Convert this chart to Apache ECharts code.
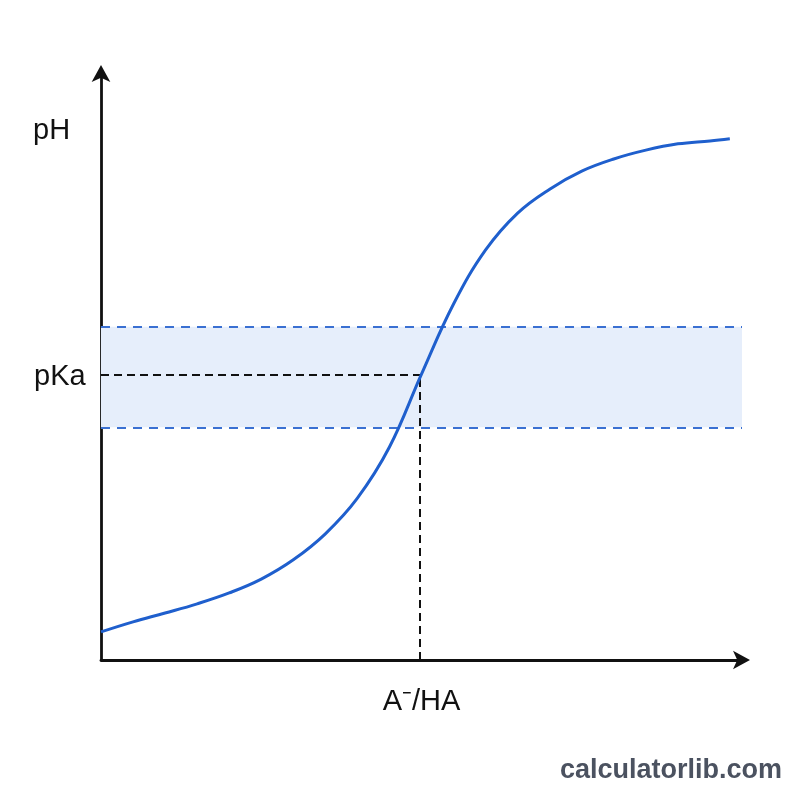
<!DOCTYPE html>
<html>
<head>
<meta charset="utf-8">
<script src="https://cdn.jsdelivr.net/npm/echarts@6/dist/echarts.min.js"></script>
<style>html,body{margin:0;padding:0;background:#fff}#c{width:800px;height:800px}</style>
</head>
<body>
<div id="c"></div>
<script>
// Data (abstract units)
const ratioX = [0, 0.5, 1.0, 1.5, 2.0, 2.5, 3.0, 3.5, 4.0, 4.5, 5.0, 5.5, 6.0, 6.5, 7.0, 7.5, 8.0, 8.5, 9.0, 9.5, 9.81];
const phY    = [0.67, 0.91, 1.12, 1.34, 1.60, 1.93, 2.39, 3.01, 3.86, 5.08, 6.82, 8.49, 9.78, 10.66, 11.23, 11.66, 11.95, 12.16, 12.31, 12.38, 12.43];
const pKaPoint = [4.98, 6.8];
const bufferBand = [5.55, 7.95];
const xRange = [0, 10];
const yRange = [0, 14];
const labels = { y: 'pH', pKa: 'pKa', x: 'A\u207B/HA', credit: 'calculatorlib.com' };

const curve = ratioX.map((x, i) => [x, phY[i]]);
const font = '"Liberation Sans", Arial, sans-serif';
const chart = echarts.init(document.getElementById('c'), null, { renderer: 'canvas' });
chart.setOption({
  animation: false,
  backgroundColor: '#ffffff',
  grid: { left: 101, right: 58, top: 73, bottom: 140, containLabel: false },
  xAxis: {
    type: 'value', min: xRange[0], max: xRange[1],
    name: labels.x, nameLocation: 'middle', nameGap: 27,
    nameTextStyle: { fontSize: 29, color: '#111', fontFamily: font },
    axisLine: { show: true, symbol: ['none', 'arrow'], symbolSize: [14, 17], symbolOffset: [0, 8], lineStyle: { color: '#111', width: 2.8 } },
    axisTick: { show: false }, axisLabel: { show: false }, splitLine: { show: false }
  },
  yAxis: {
    type: 'value', min: yRange[0], max: yRange[1],
    axisLine: { show: true, onZero: false, symbol: ['none', 'arrow'], symbolSize: [14, 17], symbolOffset: [0, 8], lineStyle: { color: '#111', width: 2.8 } },
    axisTick: { show: false }, axisLabel: { show: false }, splitLine: { show: false }
  },
  graphic: [
    { type: 'text', left: 33, top: 116, style: { text: labels.y, fontSize: 29, fill: '#111', fontFamily: font } },
    { type: 'text', left: 34, top: 362, style: { text: labels.pKa, fontSize: 29, fill: '#111', fontFamily: font } },
    { type: 'text', right: 18, top: 757, style: { text: labels.credit, fontSize: 27, fontWeight: 'bold', fill: '#4b5260', fontFamily: font } }
  ],
  series: [
    {
      type: 'line', data: curve, smooth: 0.4, showSymbol: false, z: 5,
      lineStyle: { color: '#1f5fcd', width: 3 },
      markArea: {
        silent: true,
        itemStyle: { color: '#e6eefb' },
        data: [[{ coord: [xRange[0], bufferBand[0]] }, { coord: [xRange[1], bufferBand[1]] }]]
      },
      markLine: {
        silent: true, symbol: ['none', 'none'], label: { show: false },
        data: [
          [{ coord: [xRange[0], bufferBand[0]], lineStyle: { color: '#3a70d2', width: 2, type: [9, 7] } }, { coord: [xRange[1], bufferBand[0]] }],
          [{ coord: [xRange[0], bufferBand[1]], lineStyle: { color: '#3a70d2', width: 2, type: [9, 7] } }, { coord: [xRange[1], bufferBand[1]] }],
          [{ coord: [xRange[0], pKaPoint[1]], lineStyle: { color: '#111', width: 2, type: [8, 5] } }, { coord: pKaPoint }],
          [{ coord: [pKaPoint[0], yRange[0]], lineStyle: { color: '#111', width: 2, type: [8, 5] } }, { coord: pKaPoint }]
        ]
      }
    }
  ]
});
</script>
</body>
</html>
